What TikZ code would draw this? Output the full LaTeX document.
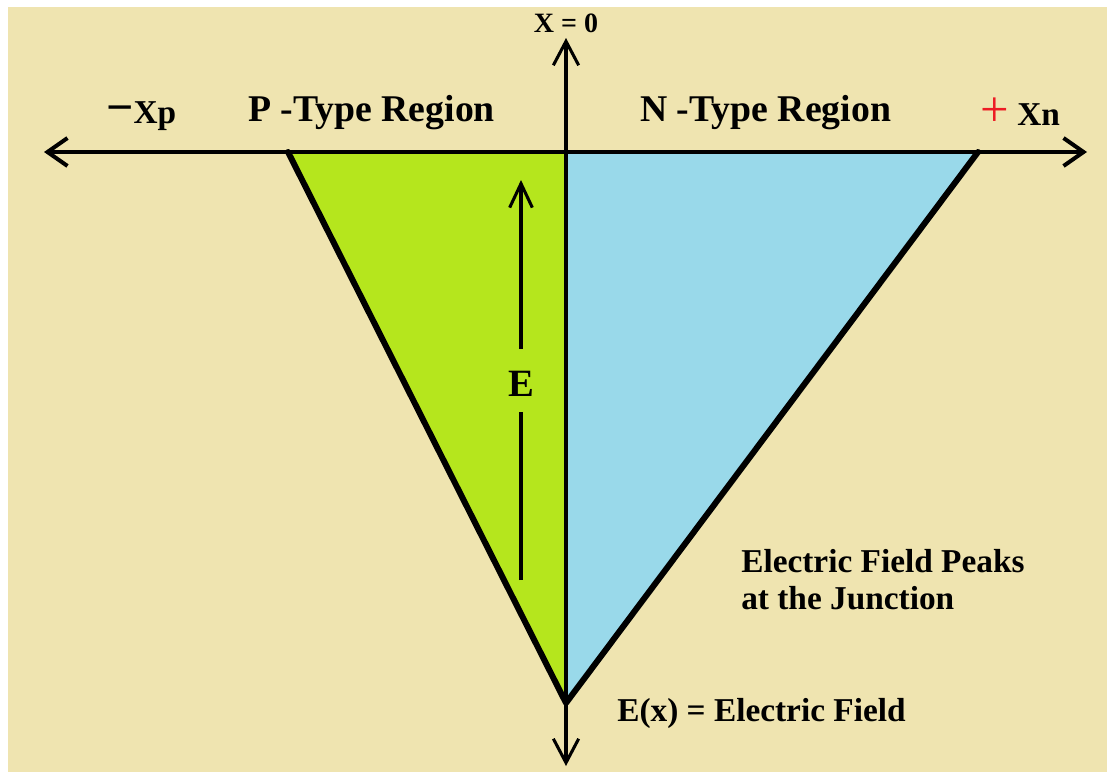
\documentclass[tikz,border=0pt]{standalone}
\usepackage{fontspec}
\setmainfont{Liberation Serif}
\usetikzlibrary{arrows.meta}
\definecolor{tan}{HTML}{EFE4B0}
\definecolor{pgreen}{HTML}{B5E61D}
\definecolor{nblue}{HTML}{99D9EA}
\definecolor{pred}{HTML}{ED1C24}
\tikzset{
  axisline/.style={line width=3pt,{Straight Barb[length=15pt,width=21pt,line width=3pt]}-{Straight Barb[length=15pt,width=21pt,line width=3pt]}},
  vaxis/.style={line width=2.3pt,{Straight Barb[length=18pt,width=19pt,line width=2.3pt]}-{Straight Barb[length=18pt,width=19pt,line width=2.3pt]}},
  edge/.style={line width=4.5pt,line cap=round,line join=round},
  earrow/.style={line width=2.3pt,-{Straight Barb[length=18pt,width=17pt,line width=2.3pt]}},
  bigl/.style={font=\fontsize{28.3}{32}\selectfont\bfseries,inner sep=0pt},
  midl/.style={font=\fontsize{25}{28}\selectfont\bfseries,inner sep=0pt},
  smalll/.style={font=\fontsize{25}{28}\selectfont\bfseries,inner sep=0pt},
}
\begin{document}
\begin{tikzpicture}[x=0.75pt,y=-0.75pt]
\useasboundingbox (0,0) rectangle (1107,772);
\fill[white] (0,0) rectangle (1107,772);
\fill[tan] (8,7) rectangle (1107,772);
% key points
\coordinate (L) at (288,152);
\coordinate (R) at (978,152);
\coordinate (O) at (566,152);
\coordinate (A) at (566,703);
% regions
\fill[pgreen] (L) -- (O) -- (A) -- cycle;
\fill[nblue] (O) -- (R) -- (A) -- cycle;
\draw[edge] (L) -- (A) -- (R);
% axes
\coordinate (hl) at (44,152);
\coordinate (hr) at (1087,152);
\coordinate (vt) at (566,38);
\coordinate (vb) at (566,766);
\draw[axisline] (hl) -- (hr);
\draw[vaxis] (vb) -- (vt);
% E arrow
\node[font=\fontsize{29}{32}\selectfont\bfseries,inner sep=0pt] (E) at (521,384) {E};
\coordinate (eb) at (521,580);
\coordinate (et) at (521,180);
\coordinate (em1) at (521,412);
\coordinate (em2) at (521,349);
\draw[line width=2.3pt] (eb) -- (em1);
\draw[earrow] (em2) -- (et);
% labels
\node[font=\fontsize{21}{24}\selectfont\bfseries,inner sep=0pt,anchor=base] (x0) at (566,32) {X = 0};
\node[bigl,anchor=base west] (ptype) at (248,121) {P -Type Region};
\node[bigl,anchor=base west] (ntype) at (640,121) {N -Type Region};
\node[smalll,anchor=base west] (xp) at (106,123) {{\fontsize{36}{38}\selectfont −}Xp};
\node[font=\fontsize{38}{40}\selectfont,inner sep=0pt,anchor=base,text=pred] (plus) at (995,126) {+};
\node[smalll,anchor=base west] (xn) at (1017,125) {Xn};
\node[midl,anchor=base west] (peak1) at (741,572) {Electric Field Peaks};
\node[midl,anchor=base west] (peak2) at (741,609) {at the Junction};
\node[midl,anchor=base west] (ex) at (617,721) {E(x) = Electric Field};
\end{tikzpicture}
\end{document}
